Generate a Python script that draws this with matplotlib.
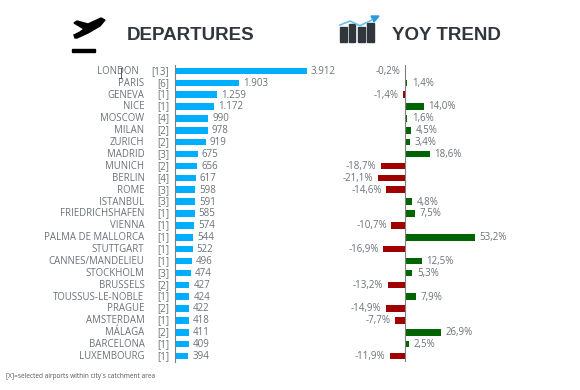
import matplotlib
matplotlib.use("Agg")
import matplotlib.pyplot as plt
from matplotlib.patches import Polygon, Rectangle

# data
cities = ["LONDON", "PARIS", "GENEVA", "NICE", "MOSCOW", "MILAN", "ZURICH", "MADRID",
          "MUNICH", "BERLIN", "ROME", "ISTANBUL", "FRIEDRICHSHAFEN", "VIENNA",
          "PALMA DE MALLORCA", "STUTTGART", "CANNES/MANDELIEU", "STOCKHOLM", "BRUSSELS",
          "TOUSSUS-LE-NOBLE", "PRAGUE", "AMSTERDAM", "MÁLAGA", "BARCELONA", "LUXEMBOURG"]
airports = [13, 6, 1, 1, 4, 2, 2, 3, 2, 4, 3, 3, 1, 1, 1, 1, 1, 3, 2, 1, 2, 1, 2, 1, 1]
departures = [3912, 1903, 1259, 1172, 990, 978, 919, 675, 656, 617, 598, 591, 585, 574,
              544, 522, 496, 474, 427, 424, 422, 418, 411, 409, 394]
trend = [-0.2, 1.4, -1.4, 14.0, 1.6, 4.5, 3.4, 18.6, -18.7, -21.1, -14.6, 4.8, 7.5, -10.7,
         53.2, -16.9, 12.5, 5.3, -13.2, 7.9, -14.9, -7.7, 26.9, 2.5, -11.9]

W, H = 580, 390
GREY = "#6b7278"
DARK = "#30363c"
BLUE = "#00aeff"
GREEN = "#006400"
RED = "#a00000"
plt.rcParams["font.family"] = ["Open Sans", "DejaVu Sans"]


def px_axes(x0, y0, x1, y1):
    # axes box given in image pixels, y counted from the top
    return fig.add_axes([x0 / W, 1 - y1 / H, (x1 - x0) / W, (y1 - y0) / H])


def dep_label(v):
    return f"{v:,}".replace(",", ".")


def pct_label(v):
    return f"{v:.1f}%".replace(".", ",")


fig = plt.figure(figsize=(W / 100, H / 100), dpi=100)
n = len(cities)
rows = list(range(n))

# left panel, 3912 spans about 131.7 px
ax1 = px_axes(175, 65, 340, 362)
ax1.barh(rows, departures, height=0.55, color=BLUE)
ax1.set_xlim(0, 165 * 3912 / 131.7)
ax1.set_ylim(n - 0.5, -0.5)
for i in rows:
    ax1.annotate(dep_label(departures[i]), (departures[i], i), xytext=(2.9, -0.3),
                 textcoords="offset points", va="center", ha="left", fontsize=7, color=GREY)
    ax1.annotate(f"[{airports[i]}]", (0, i), xytext=(-4.3, -0.3), textcoords="offset points",
                 va="center", ha="right", fontsize=7, color=GREY)
    # the London label sits a little left of the others in the reference
    name_off = -26.2 if cities[i] == "LONDON" else -22.0
    ax1.annotate(cities[i], (0, i), xytext=(name_off, -0.3), textcoords="offset points",
                 va="center", ha="right", fontsize=6.9, color=GREY)

# right panel
ax2 = px_axes(340, 65, 540, 362)
colors = [GREEN if v > 0 else RED for v in trend]
ax2.barh(rows, trend, height=0.55, color=colors)
ax2.set_xlim(-65.3 / 1.31, 134.7 / 1.31)
ax2.set_ylim(n - 0.5, -0.5)
for i in rows:
    if trend[i] > 0:
        ax2.annotate(pct_label(trend[i]), (trend[i], i), xytext=(3.4, -0.3),
                     textcoords="offset points", va="center", ha="left", fontsize=7, color=GREY)
    else:
        ax2.annotate(pct_label(trend[i]), (trend[i], i), xytext=(-3.2, -0.3),
                     textcoords="offset points", va="center", ha="right", fontsize=7, color=GREY)

for ax in (ax1, ax2):
    ax.set_facecolor("none")
    ax.set_xticks([])
    ax.set_yticks([])
    for s in ["top", "right", "bottom"]:
        ax.spines[s].set_visible(False)
ax1.spines["left"].set_color("#7f7f7f")
ax1.spines["left"].set_linewidth(0.8)
ax2.spines["left"].set_visible(False)
ax2.axvline(0, color="#7f7f7f", lw=0.8)

# headers, note and icons in pixel coordinates
bg = fig.add_axes([0, 0, 1, 1], zorder=3)
bg.set_facecolor("none")
bg.set_xlim(0, W)
bg.set_ylim(H, 0)
bg.axis("off")
bg.text(127, 33, "DEPARTURES", fontsize=13.5, fontweight="bold", color=DARK, va="center_baseline", family="Liberation Sans")
bg.text(392, 33, "YOY TREND", fontsize=13.5, fontweight="bold", color=DARK, va="center_baseline", family="Liberation Sans")
bg.text(6, 376.5, "[X]=selected airports within city´s catchment area", fontsize=4.7, color="#555555", va="center")

# plane icon
bg.add_patch(Polygon([(74, 23), (77, 21), (88, 24), (101, 18), (105, 20), (100, 26), (88, 33),
                      (77, 38), (75, 38), (74, 35), (80, 32), (84, 29)], color="black"))
bg.add_patch(Rectangle((72, 48.5), 23, 3, color="black"))

# trend icon
for x0, x1, y0 in [(340, 347, 26.7), (348.5, 355, 24), (357.5, 364.5, 26.7), (367, 373.5, 23.3)]:
    bg.add_patch(Rectangle((x0, y0), x1 - x0, 42.3 - y0, color=DARK))
bg.plot([340, 350, 360, 372], [25, 21, 25.7, 20], color="#6cc0e8", lw=1.2)
bg.add_patch(Polygon([(371, 16), (379, 16), (374, 22)], color="#2d9be0"))

# text cursor left over the London label
bg.plot([120.5, 120.5], [68, 78], color="#555555", lw=0.7)
bg.plot([119, 122], [68, 68], color="#555555", lw=0.5)
bg.plot([119, 122], [78, 78], color="#555555", lw=0.5)

fig.savefig("out.png", dpi=100)
